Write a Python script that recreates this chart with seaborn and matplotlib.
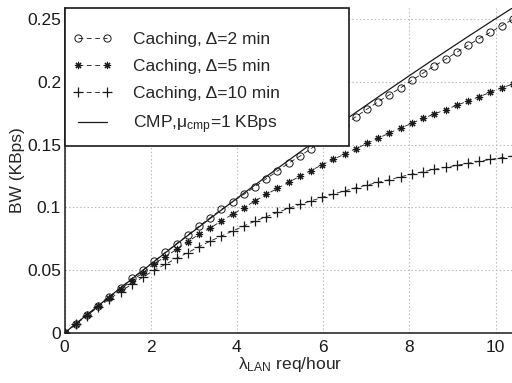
import numpy as np
import pandas as pd
import matplotlib
matplotlib.use("Agg")
import matplotlib.pyplot as plt
from matplotlib.patches import Rectangle
import seaborn as sns

# arrival rate (req/hour)
lam = [0.00, 0.26, 0.52, 0.78, 1.04, 1.30, 1.56, 1.82, 2.08, 2.34,
       2.60, 2.86, 3.12, 3.38, 3.64, 3.90, 4.16, 4.42, 4.68, 4.94,
       5.20, 5.46, 5.72, 5.98, 6.24, 6.50, 6.76, 7.02, 7.28, 7.54,
       7.80, 8.06, 8.32, 8.58, 8.84, 9.10, 9.36, 9.62, 9.88, 10.14,
       10.40]

# bandwidth (KBps)
bw_cache_2 = [0.0000, 0.0072, 0.0143, 0.0215, 0.0289, 0.0361, 0.0435, 0.0502, 0.0572, 0.0642,
              0.0712, 0.0780, 0.0850, 0.0918, 0.0985, 0.1045, 0.1103, 0.1165, 0.1228, 0.1290,
              0.1352, 0.1408, 0.1468, 0.1530, 0.1592, 0.1658, 0.1722, 0.1783, 0.1842, 0.1897,
              0.1953, 0.2012, 0.2070, 0.2126, 0.2179, 0.2235, 0.2290, 0.2344, 0.2394, 0.2446,
              0.2498]
bw_cache_5 = [0.0000, 0.0071, 0.0142, 0.0212, 0.0281, 0.0349, 0.0416, 0.0480, 0.0552, 0.0607,
              0.0666, 0.0727, 0.0786, 0.0836, 0.0892, 0.0946, 0.0998, 0.1052, 0.1103, 0.1152,
              0.1200, 0.1248, 0.1294, 0.1340, 0.1383, 0.1425, 0.1467, 0.1510, 0.1551, 0.1593,
              0.1632, 0.1670, 0.1709, 0.1744, 0.1778, 0.1813, 0.1847, 0.1881, 0.1917, 0.1952,
              0.1982]
bw_cache_10 = [0.0000, 0.0070, 0.0139, 0.0206, 0.0270, 0.0330, 0.0388, 0.0445, 0.0500, 0.0547,
               0.0595, 0.0640, 0.0687, 0.0731, 0.0772, 0.0812, 0.0852, 0.0890, 0.0926, 0.0960,
               0.0993, 0.1024, 0.1052, 0.1080, 0.1107, 0.1131, 0.1157, 0.1178, 0.1200, 0.1221,
               0.1244, 0.1265, 0.1284, 0.1303, 0.1319, 0.1335, 0.1351, 0.1367, 0.1382, 0.1396,
               0.1409]
bw_cmp = [0.0000, 0.0073, 0.0145, 0.0216, 0.0288, 0.0359, 0.0429, 0.0499, 0.0569, 0.0639,
          0.0708, 0.0776, 0.0844, 0.0912, 0.0979, 0.1046, 0.1113, 0.1179, 0.1245, 0.1310,
          0.1375, 0.1440, 0.1504, 0.1567, 0.1631, 0.1694, 0.1756, 0.1818, 0.1880, 0.1941,
          0.2002, 0.2063, 0.2123, 0.2183, 0.2242, 0.2301, 0.2360, 0.2418, 0.2476, 0.2533,
          0.2590]

labels = ["Caching, \u0394=2 min", "Caching, \u0394=5 min", "Caching, \u0394=10 min",
          r"CMP,$\mathregular{\mu_{cmp}}$=1 KBps"]

xticks = [0, 2, 4, 6, 8, 10]
yticks = [0, 0.05, 0.10, 0.15, 0.20, 0.25]
ytick_labels = ["0", "0.05", "0.1", "0.15", "0.2", "0.25"]

FS = 12.5

sns.set_theme(style="white")
plt.rcParams["font.family"] = ["Liberation Sans", "DejaVu Sans"]
plt.rcParams["mathtext.fontset"] = "custom"
plt.rcParams["mathtext.rm"] = "Liberation Sans"
plt.rcParams["mathtext.it"] = "Liberation Sans:italic"
plt.rcParams["lines.scale_dashes"] = False

W, H = 512, 383
fig = plt.figure(figsize=(W / 100, H / 100), dpi=100)
ax_w = 450.4
ax = fig.add_axes([64.5 / W, 50 / H, ax_w / W, 325 / H])

df = pd.DataFrame({"lam": lam, "c2": bw_cache_2, "c5": bw_cache_5,
                   "c10": bw_cache_10, "cmp": bw_cmp})

dash = (3.5, 2.5)
asterisk = (8, 2, 0)
sns.lineplot(data=df, x="lam", y="c2", ax=ax, color="k", lw=0.6,
             linestyle="--", marker="o", markersize=5.2,
             markerfacecolor="none", markeredgecolor="k", markeredgewidth=0.7,
             label=labels[0])
sns.lineplot(data=df, x="lam", y="c5", ax=ax, color="k", lw=0.6,
             linestyle="--", marker=asterisk, markersize=5.2,
             markerfacecolor="k", markeredgecolor="k", markeredgewidth=0.8,
             label=labels[1])
sns.lineplot(data=df, x="lam", y="c10", ax=ax, color="k", lw=0.6,
             linestyle="--", marker="+", markersize=7,
             markeredgecolor="k", markeredgewidth=0.9,
             label=labels[2])
sns.lineplot(data=df, x="lam", y="cmp", ax=ax, color="k", lw=0.9,
             label=labels[3])

for ln in ax.get_lines()[:3]:
    ln.set_dashes(dash)

ax.set_xlim(0, 10.45)
ax.set_ylim(0, 0.2588)
ax.set_xticks(xticks)
ax.set_xticklabels([str(t) for t in xticks])
ax.set_yticks(yticks)
ax.set_yticklabels(ytick_labels)
ax.tick_params(direction="in", length=4, width=0.8, labelsize=FS, colors="k")
ax.tick_params(axis="x", pad=5)
ax.tick_params(axis="y", pad=2.5)
ax.grid(True, linestyle=":", color="#b8b8b8", linewidth=0.8)

for side in ["top", "right"]:
    ax.spines[side].set_visible(False)
for side in ["left", "bottom"]:
    ax.spines[side].set_color("k")
    ax.spines[side].set_linewidth(1.1)

ax.set_xlabel(r"$\mathregular{\lambda_{LAN}}$ req/hour", fontsize=FS, labelpad=0)
ax.set_ylabel("BW (KBps)", fontsize=FS, labelpad=1.5)

# legend box
box_w = (349 - 64.5) / ax_w
box_h = (146 - 8) / 325
frame = Rectangle((0, 1 - box_h), box_w, box_h, transform=ax.transAxes,
                  facecolor="white", edgecolor="k", linewidth=1.2,
                  zorder=9, clip_on=False)
ax.add_patch(frame)

leg = ax.legend(loc="upper left", bbox_to_anchor=((72 - 64.5) / ax_w - 0.01, 1 - 19 / 325),
                borderaxespad=0, borderpad=0.3, fontsize=FS, numpoints=2,
                handlelength=2.3, handletextpad=1.2, labelspacing=0.68,
                frameon=False)
leg.set_zorder(10)

fig.savefig("out.png", dpi=100)
